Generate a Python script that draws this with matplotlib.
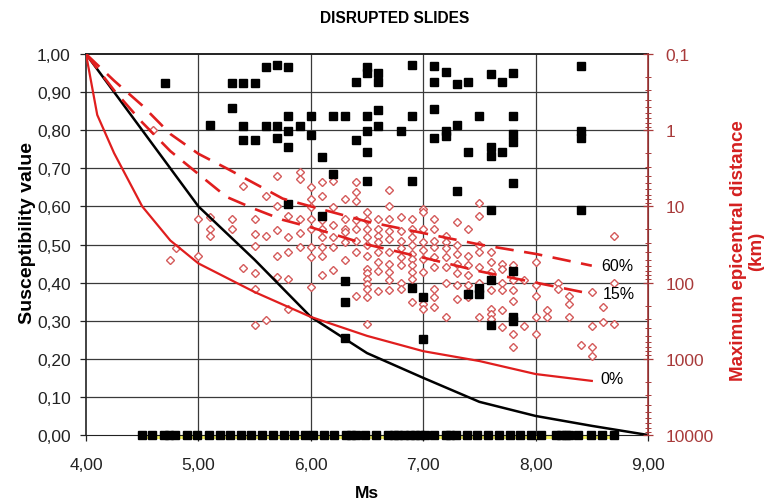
import numpy as np
import matplotlib
matplotlib.use('Agg')
import matplotlib.pyplot as plt
from matplotlib.ticker import FixedLocator, FuncFormatter, LogLocator, NullFormatter

plt.rcParams['font.family'] = ['Liberation Sans', 'DejaVu Sans']

# black squares (disrupted slides, upper cloud)
black_ms = [4.7, 5.3, 5.4, 5.5, 5.6, 5.7, 5.8, 6.4, 5.3, 5.1, 5.4, 5.6, 5.7, 5.9,
            5.8, 6.0, 6.2, 6.3, 5.8, 6.0, 5.4, 5.5, 5.7, 5.8, 6.1, 6.4, 6.2, 5.8, 6.1,
            6.5, 6.5, 6.6, 6.6, 6.9, 7.1, 7.1, 7.2, 7.3, 7.4, 7.6, 7.7, 7.8, 8.4,
            6.5, 6.6, 6.9, 7.1, 7.5, 7.8,
            6.5, 6.6, 6.8, 7.2, 7.2, 7.1, 7.3, 7.8, 7.8, 8.4, 8.4,
            6.5, 7.4, 7.6, 7.6, 7.7,
            6.5, 6.9, 7.3, 7.8, 7.6, 8.4,
            6.3, 6.3, 6.3, 6.9, 7.0, 7.0, 7.4, 7.5, 7.5, 7.6, 7.6, 7.8, 7.8, 7.8]
black_s = [0.924, 0.924, 0.924, 0.924, 0.967, 0.972, 0.967, 0.926, 0.859, 0.814, 0.811, 0.811, 0.811, 0.811,
           0.837, 0.837, 0.837, 0.837, 0.797, 0.787, 0.775, 0.775, 0.780, 0.755, 0.729, 0.775, 0.685, 0.606, 0.574,
           0.965, 0.950, 0.950, 0.926, 0.971, 0.969, 0.926, 0.952, 0.921, 0.926, 0.948, 0.926, 0.950, 0.969,
           0.836, 0.854, 0.836, 0.856, 0.836, 0.836,
           0.797, 0.810, 0.797, 0.797, 0.786, 0.780, 0.814, 0.790, 0.768, 0.797, 0.780,
           0.742, 0.742, 0.757, 0.733, 0.742,
           0.666, 0.666, 0.641, 0.661, 0.590, 0.590,
           0.403, 0.349, 0.255, 0.386, 0.362, 0.252, 0.370, 0.370, 0.385, 0.406, 0.290, 0.430, 0.310, 0.300]

# black squares lying on the zero line
zero_ms = [4.50, 4.59, 4.69, 4.74, 4.79, 4.90, 4.99, 5.09, 5.19, 5.28, 5.38, 5.47, 5.57,
           5.66, 5.76, 5.85, 5.95, 6.02, 6.12, 6.21, 6.31, 6.36, 6.40, 6.48, 6.58, 6.69,
           6.74, 6.78, 6.83, 6.88, 6.93, 6.97, 7.02, 7.10, 7.20, 7.24, 7.29, 7.39, 7.48,
           7.58, 7.67, 7.77, 7.86, 7.96, 8.05, 8.18, 8.23, 8.27, 8.30, 8.38, 8.49, 8.59, 8.70]

# open red diamonds, grouped by Ms column
diamond_cols = [4.6, 4.75, 4.8, 5.0, 5.1, 5.3, 5.4, 5.5, 5.6, 5.7, 5.8, 5.9, 6.0, 6.1, 6.2,
                6.3, 6.4, 6.5, 6.6, 6.7, 6.8, 6.9, 7.0, 7.1, 7.2, 7.3, 7.4, 7.5, 7.6, 7.7,
                7.8, 7.9, 8.0, 8.1, 8.2, 8.3, 8.4, 8.5, 8.6, 8.7]
diamond_vals = [
    [0.80], [0.46], [0.49], [0.567, 0.47], [0.571, 0.54, 0.523], [0.567, 0.54],
    [0.654, 0.438], [0.567, 0.527, 0.497, 0.424, 0.384, 0.29], [0.628, 0.523, 0.303],
    [0.68, 0.60, 0.538, 0.47, 0.415], [0.576, 0.52, 0.48, 0.41, 0.331],
    [0.69, 0.672, 0.567, 0.494, 0.53],
    [0.65, 0.62, 0.598, 0.567, 0.54, 0.494, 0.467, 0.388],
    [0.663, 0.628, 0.563, 0.54, 0.519, 0.494, 0.47, 0.42],
    [0.667, 0.598, 0.52, 0.494, 0.432, 0.55],
    [0.567, 0.54, 0.532, 0.506, 0.459, 0.403, 0.62],
    [0.663, 0.637, 0.615, 0.563, 0.54, 0.48, 0.366, 0.51],
    [0.584, 0.563, 0.54, 0.52, 0.50, 0.47, 0.437, 0.424, 0.41, 0.397, 0.383, 0.362, 0.292],
    [0.567, 0.54, 0.523, 0.507, 0.48, 0.454, 0.379, 0.43],
    [0.643, 0.60, 0.567, 0.514, 0.48, 0.45, 0.428, 0.406, 0.38, 0.535],
    [0.571, 0.536, 0.49, 0.468, 0.445, 0.40, 0.384, 0.51],
    [0.567, 0.52, 0.498, 0.476, 0.463, 0.445, 0.428, 0.41, 0.349, 0.54],
    [0.593, 0.584, 0.54, 0.507, 0.463, 0.428, 0.362, 0.344, 0.331, 0.485],
    [0.567, 0.54, 0.494, 0.467, 0.441, 0.384, 0.362, 0.336, 0.51],
    [0.523, 0.507, 0.467, 0.441, 0.40, 0.31, 0.49],
    [0.558, 0.476, 0.45, 0.424, 0.393, 0.358, 0.50],
    [0.54, 0.445, 0.42, 0.393, 0.375, 0.362, 0.47],
    [0.61, 0.576, 0.50, 0.48, 0.40, 0.38, 0.31, 0.44],
    [0.48, 0.454, 0.428, 0.38, 0.33, 0.318, 0.305],
    [0.45, 0.437, 0.40, 0.38, 0.327, 0.283],
    [0.445, 0.428, 0.406, 0.38, 0.353, 0.265, 0.23],
    [0.406, 0.287], [0.454, 0.393, 0.366, 0.31, 0.265], [0.327, 0.31], [0.40, 0.384],
    [0.366, 0.344, 0.31], [0.235], [0.375, 0.287, 0.23, 0.208], [0.336, 0.296],
    [0.523, 0.40, 0.292],
]

# black susceptibility curve (left axis)
curve_ms = [4.0, 4.5, 5.0, 5.5, 6.0, 6.5, 7.0, 7.5, 8.0, 8.5, 9.0]
curve_s = [1.0, 0.8, 0.6, 0.46, 0.31, 0.215, 0.15, 0.087, 0.05, 0.024, 0.0]

# maximum epicentral distance curves (right axis, km)
d0_ms = [4.0, 4.1, 4.25, 4.5, 4.75, 5.0, 5.5, 6.0, 6.5, 7.0, 7.5, 8.0, 8.5]
d0_km = [0.1, 0.63, 2.0, 10, 28, 56, 133, 282, 500, 794, 1070, 1585, 1950]
d_ms = [4.0, 4.25, 4.5, 4.75, 5.0, 5.25, 5.5, 5.75, 6.0, 6.5, 7.0, 7.5, 8.0, 8.5]
d15_km = [0.1, 0.30, 0.79, 1.88, 3.76, 7.5, 10.8, 15, 18.8, 31.6, 47, 71, 100, 141]
d60_km = [0.1, 0.224, 0.473, 1.12, 2.04, 3.16, 5.0, 7.9, 10, 15.8, 22.4, 31.6, 42, 60]

red = '#e01e1e'
dia = '#d45a5a'
axred = '#a83a3a'

fig = plt.figure(figsize=(7.64, 5.02), dpi=100)
ax = fig.add_axes([86 / 764, 1 - 436 / 502, (648 - 86) / 764, (436 - 55) / 502])

# grid
for v in [5, 6, 7, 8]:
    ax.axvline(v, color='#3a3a3a', lw=0.9, zorder=1)
for v in np.arange(0.1, 1.0, 0.1):
    ax.axhline(v, color='#3a3a3a', lw=0.9, zorder=1)

# diamonds
dx = [c for c, vals in zip(diamond_cols, diamond_vals) for _ in vals]
dy = [v for vals in diamond_vals for v in vals]
ax.plot(dx, dy, 'D', ms=4.2, mfc='white', mec=dia, mew=1.0, ls='none', zorder=3)

# black squares
ax.plot(black_ms, black_s, 's', ms=5.6, color='black', ls='none', zorder=4)

# zero line with squares
ax.plot([zero_ms[0], zero_ms[-1]], [-0.006, -0.006], color='#f2f060', lw=3, zorder=2,
        clip_on=False)
ax.plot(zero_ms, [0] * len(zero_ms), 's', ms=5.4, color='black', ls='none', zorder=5,
        clip_on=False)

ax.plot(curve_ms, curve_s, color='black', lw=1.8, zorder=6)

ax.set_xlim(4, 9)
ax.set_ylim(0, 1)
ax.set_xticks([4, 5, 6, 7, 8, 9])
ax.set_yticks(np.arange(0, 1.01, 0.1))
comma = FuncFormatter(lambda v, p: f'{v:.2f}'.replace('.', ','))
ax.xaxis.set_major_formatter(comma)
ax.yaxis.set_major_formatter(comma)
ax.tick_params(axis='both', labelsize=12.5, colors='#222222', length=4, width=0.9)
ax.tick_params(axis='x', pad=12)
ax.tick_params(axis='y', pad=7)
for s in ['left', 'bottom', 'top']:
    ax.spines[s].set_color('#222222')
ax.spines['top'].set_linewidth(1.4)
ax.spines['left'].set_linewidth(1.2)
ax.set_xlabel('Ms', fontsize=12.5, fontweight='bold', labelpad=9)

# right log axis
ax2 = ax.twinx()
ax2.set_yscale('log')
ax2.set_ylim(10000, 0.1)
ax2.plot(d0_ms, d0_km, color=red, lw=1.6, zorder=6)
ax2.plot(d_ms, d15_km, color=red, lw=1.9, dashes=(7, 4), zorder=6)
ax2.plot(d_ms, d60_km, color=red, lw=1.9, dashes=(7, 4), zorder=6)
ax2.yaxis.set_major_locator(FixedLocator([0.1, 1, 10, 100, 1000, 10000]))
ax2.yaxis.set_major_formatter(FuncFormatter(lambda v, p: '0,1' if v < 1 else f'{v:.0f}'))
ax2.yaxis.set_minor_locator(LogLocator(base=10, subs=np.arange(2, 10)))
ax2.yaxis.set_minor_formatter(NullFormatter())
ax2.tick_params(axis='y', which='major', labelsize=12.5, colors=axred, length=7,
                direction='inout', width=0.9, pad=9)
ax2.tick_params(axis='y', which='minor', colors=axred, length=5, direction='inout', width=0.7)
ax2.spines['right'].set_color(axred)
ax2.spines['right'].set_linewidth(1.2)
ax2.spines['top'].set_visible(False)
ax2.spines['left'].set_visible(False)
ax2.spines['bottom'].set_visible(False)

ax.text(8.58, 0.446, '60%', fontsize=11.5, ha='left', va='center', zorder=7)
ax.text(8.60, 0.372, '15%', fontsize=11.5, ha='left', va='center', zorder=7)
ax.text(8.58, 0.147, '0%', fontsize=11.5, ha='left', va='center', zorder=7)

fig.text(0.517, 0.963, 'DISRUPTED SLIDES', fontsize=11.2, fontweight='bold',
         ha='center', va='center')
fig.text(28 / 764, 0.535, 'Susceptibility value', fontsize=14, fontweight='bold',
         rotation=90, ha='center', va='center')
fig.text(0.978, 0.50, 'Maximum epicentral distance\n(km)', fontsize=13.5, fontweight='bold',
         color='#d42020', rotation=90, ha='center', va='center', multialignment='center',
         linespacing=1.1)

fig.savefig('out.png', dpi=100)
